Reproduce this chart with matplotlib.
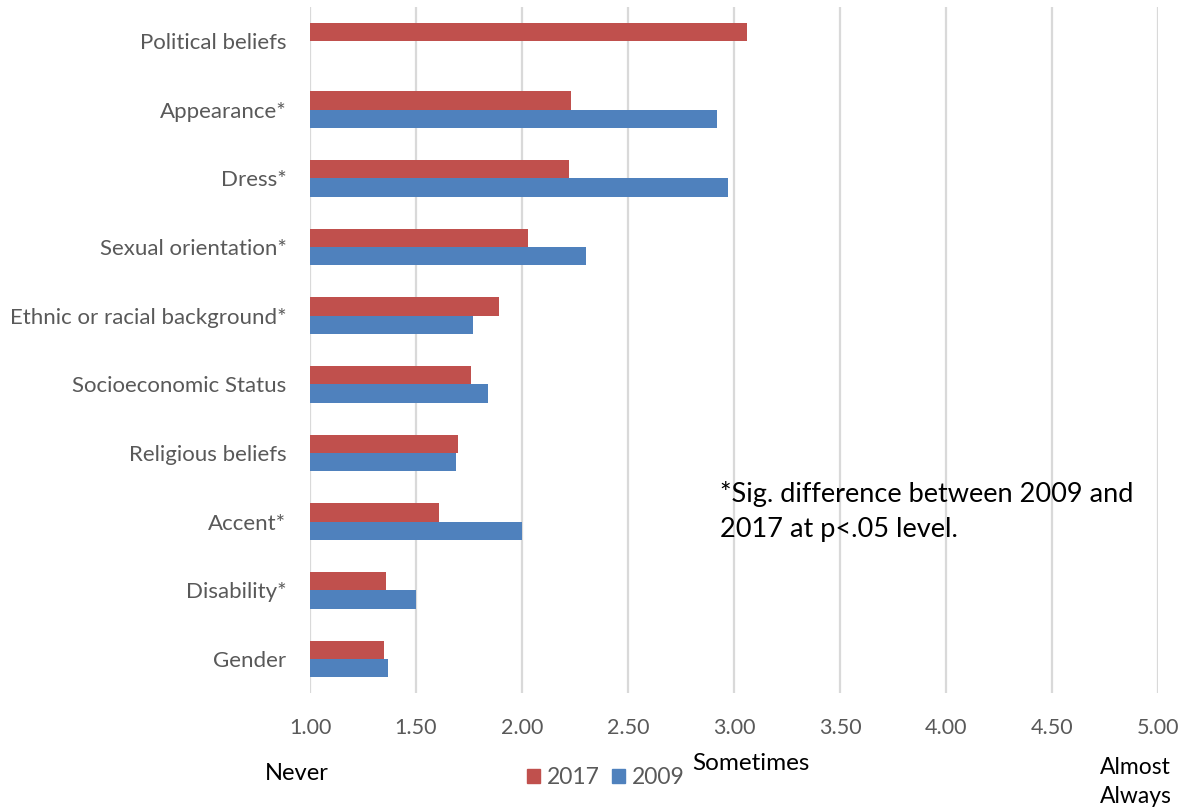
import numpy as np
import matplotlib
matplotlib.use("Agg")
import matplotlib.pyplot as plt
from matplotlib.patches import Patch

plt.rcParams['font.family'] = ['Lato', 'DejaVu Sans']

# categories from bottom to top
categories = ["Gender", "Disability*", "Accent*", "Religious beliefs",
              "Socioeconomic Status", "Ethnic or racial background*",
              "Sexual orientation*", "Dress*", "Appearance*", "Political beliefs"]
vals_2017 = [1.35, 1.36, 1.61, 1.70, 1.76, 1.89, 2.03, 2.22, 2.23, 3.06]
vals_2009 = [1.37, 1.50, 2.00, 1.69, 1.84, 1.77, 2.30, 2.97, 2.92, np.nan]
xticks = [1.00, 1.50, 2.00, 2.50, 3.00, 3.50, 4.00, 4.50, 5.00]

red = "#C0504D"
blue = "#4F81BD"
grey_txt = "#595959"

fig = plt.figure(figsize=(11.88, 8.11), dpi=100)
ax = fig.add_axes([310 / 1188, 1 - 693.3 / 811, 848 / 1188, 686.6 / 811])

y = np.arange(len(categories))
h = 0.265
base = 1.0
w17 = [v - base for v in vals_2017]
w09 = [v - base for v in vals_2009]
ax.barh(y + h / 2, w17, height=h, left=base, color=red, zorder=3)
ax.barh(y - h / 2, w09, height=h, left=base, color=blue, zorder=3)

ax.set_xlim(1, 5)
ax.set_ylim(-0.5, len(categories) - 0.5)
ax.set_xticks(xticks)
ax.set_xticklabels([f"{t:.2f}" for t in xticks])
ax.set_yticks(y)
ax.set_yticklabels(categories)
ax.tick_params(axis='both', length=0, colors=grey_txt)
ax.tick_params(axis='x', pad=18, labelsize=15.5)
ax.tick_params(axis='y', pad=17, labelsize=16)
ax.grid(axis='x', color="#D9D9D9", linewidth=1.6, zorder=0)
for s in ax.spines.values():
    s.set_visible(False)

fig.text(720 / 1188, 1 - 511 / 811, "*Sig. difference between 2009 and\n2017 at p<.05 level.",
         fontsize=19.5, color="black", va='center', ha='left', linespacing=1.5)

fig.text(265 / 1188, 1 - 773 / 811, "Never", fontsize=17, color="black", va='center')
fig.text(692 / 1188, 1 - 764 / 811, "Sometimes", fontsize=17.5, color="black", va='center')
fig.text(1100 / 1188, 1 - 782 / 811, "Almost\nAlways", fontsize=16.5, color="black",
         va='center', linespacing=1.45)

handles = [Patch(color=red, label="2017"), Patch(color=blue, label="2009")]
fig.legend(handles=handles, loc='center', bbox_to_anchor=(606 / 1188, 1 - 778 / 811),
           ncol=2, frameon=False, fontsize=16.5, handlelength=0.55, handleheight=0.55,
           handletextpad=0.3, columnspacing=0.55, labelcolor=grey_txt)

fig.savefig("out.png", dpi=100)
